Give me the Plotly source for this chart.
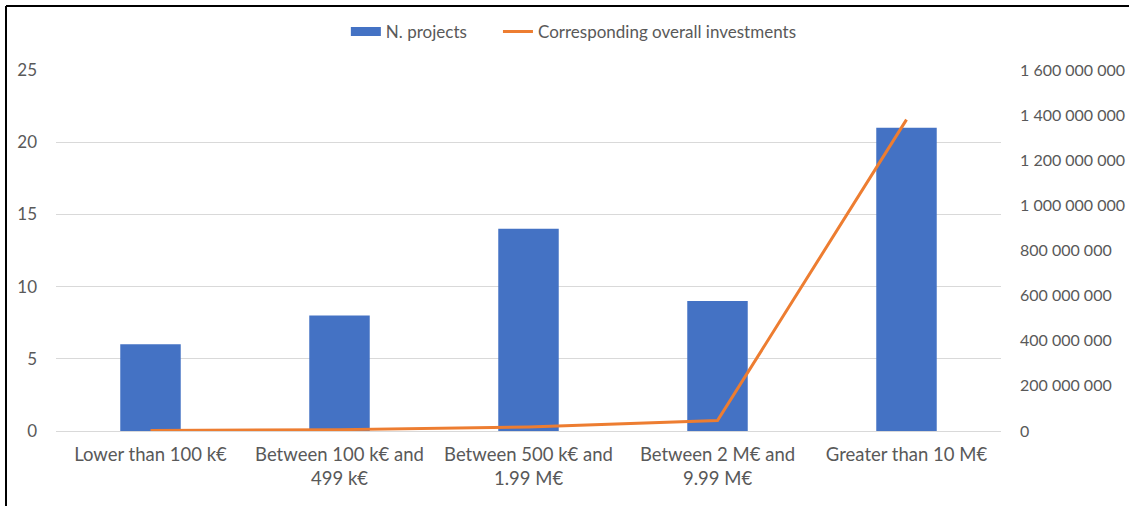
import plotly.graph_objects as go

# Investment size classes
categories = [
    "Lower than 100 k€",
    "Between 100 k€ and<br>499 k€",
    "Between 500 k€ and<br>1.99 M€",
    "Between 2 M€ and<br>9.99 M€",
    "Greater than 10 M€",
]
n_projects = [6, 8, 14, 9, 21]
investments = [2_000_000, 6_000_000, 18_000_000, 46_000_000, 1_380_000_000]

left_ticks = [0, 5, 10, 15, 20, 25]
right_ticks = [0, 200_000_000, 400_000_000, 600_000_000, 800_000_000,
               1_000_000_000, 1_200_000_000, 1_400_000_000, 1_600_000_000]

W, H = 1129, 506
ML, MR, MT, MB = 56, 128, 70, 75
pw, ph = W - ML - MR, H - MT - MB

font = "Lato"
grey = "#595959"
blue = "#4472C4"
orange = "#ED7D31"
fs = 17

fig = go.Figure()
fig.add_trace(go.Bar(
    x=categories, y=n_projects, name="N. projects",
    marker=dict(color=blue, line=dict(width=0)),
    yaxis="y", showlegend=False,
))
# legend key for the bars: a wide flat swatch
fig.add_trace(go.Scatter(
    x=[None], y=[None], name="N. projects" + "\u00a0" * 6, mode="lines",
    line=dict(color=blue, width=9), showlegend=True, hoverinfo="skip",
))
fig.add_trace(go.Scatter(
    x=categories, y=investments, name="Corresponding overall investments",
    mode="lines", line=dict(color=orange, width=3),
    yaxis="y2",
))

# outer frame (left and top edges)
fx = (6 - ML) / pw
fy = (H - MB - 6) / ph
fig.add_shape(type="line", xref="paper", yref="paper",
              x0=fx, x1=fx, y0=fy, y1=-2.0, line=dict(color="black", width=2))
fig.add_shape(type="line", xref="paper", yref="paper",
              x0=fx, x1=2.0, y0=fy, y1=fy, line=dict(color="black", width=2))

fig.update_layout(
    width=W, height=H,
    margin=dict(l=ML, r=MR, t=MT, b=MB, pad=0, autoexpand=False),
    paper_bgcolor="white", plot_bgcolor="white",
    separators=". ",
    bargap=0.68,
    font=dict(family=font, size=fs, color=grey),
    showlegend=True,
    legend=dict(orientation="h", x=0.548, xanchor="center",
                y=(H - MB - 32) / ph, yanchor="middle",
                bgcolor="rgba(0,0,0,0)",
                font=dict(size=fs, color=grey), traceorder="normal"),
    xaxis=dict(
        showgrid=False, showline=True, linecolor="#d9d9d9", linewidth=1,
        ticks="", tickfont=dict(size=18.5, color=grey), ticklabelstandoff=7,
    ),
    yaxis=dict(
        range=[0, 25], tickvals=left_ticks, showgrid=True, gridcolor="#d9d9d9",
        zeroline=False, showline=False, ticks="", tickfont=dict(size=fs, color=grey),
        ticklabelstandoff=18,
    ),
    yaxis2=dict(
        range=[0, 1_600_000_000], tickvals=right_ticks, tickformat=",d",
        overlaying="y", side="right", showgrid=False, zeroline=False,
        showline=False, ticks="", tickfont=dict(size=16, color=grey),
        ticklabelstandoff=18,
    ),
)

fig.write_html("out.html")
